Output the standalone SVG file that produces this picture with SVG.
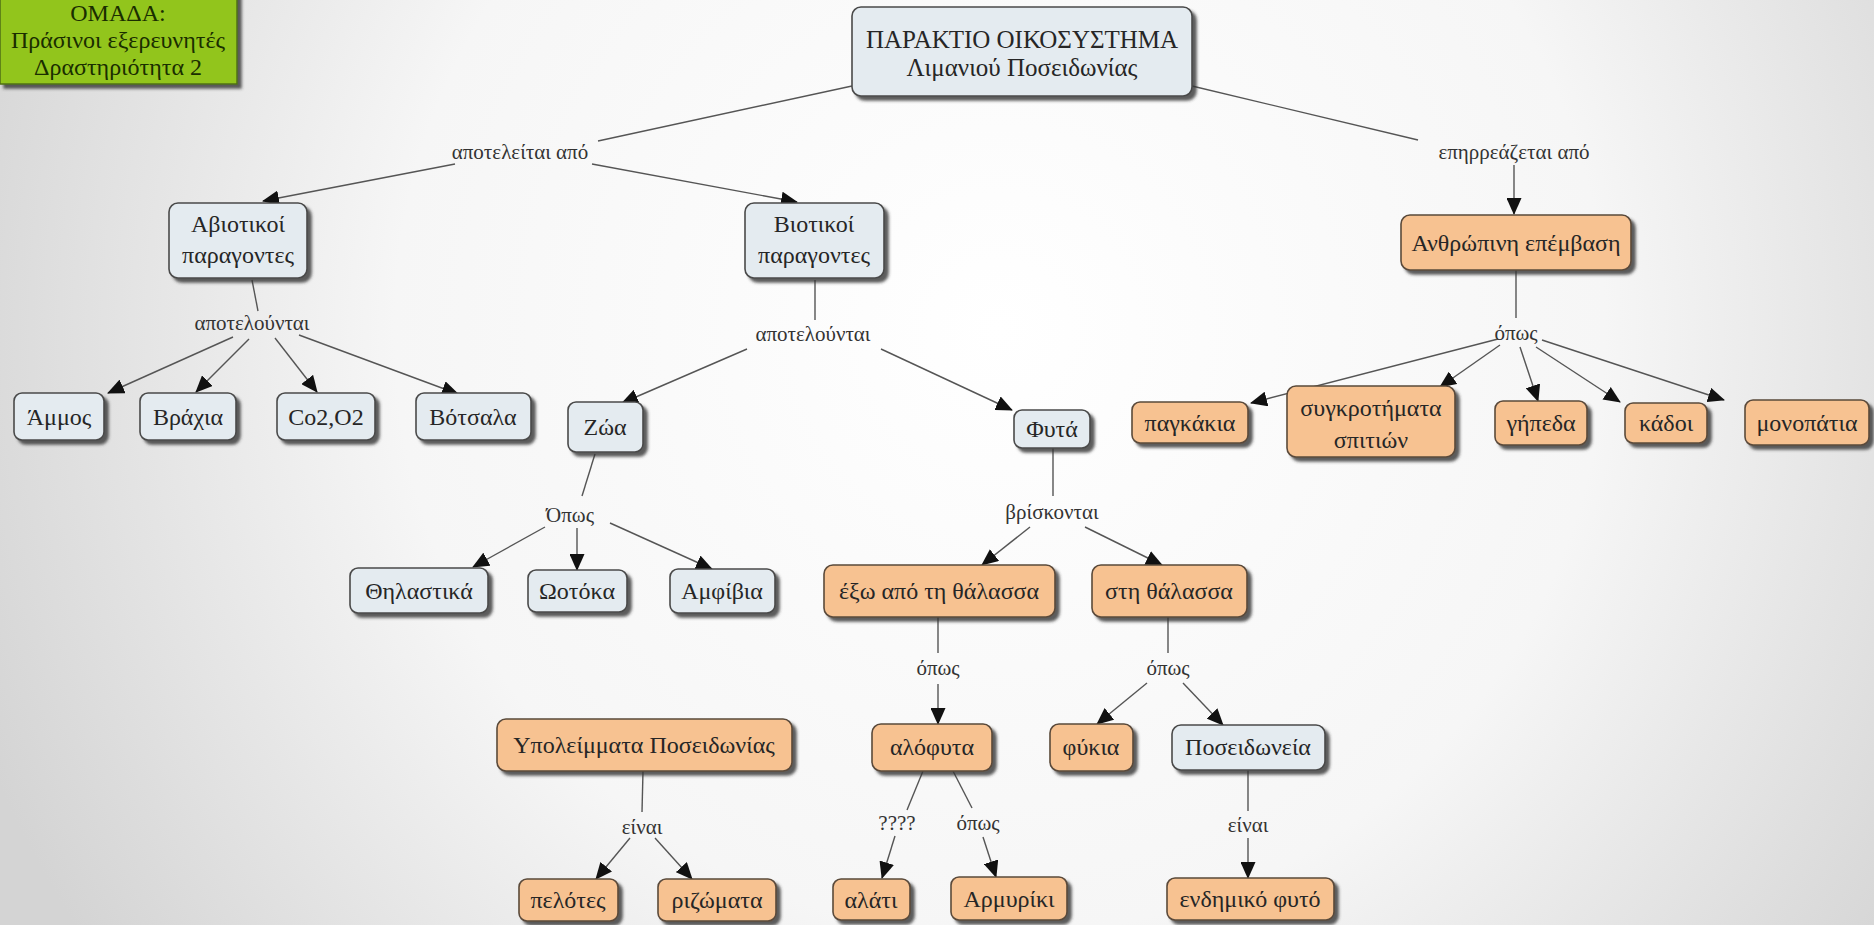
<svg xmlns="http://www.w3.org/2000/svg" width="1874" height="925" viewBox="0 0 1874 925">
<defs>
<radialGradient id="bg" cx="1000" cy="330" r="1100" gradientUnits="userSpaceOnUse">
<stop offset="0" stop-color="#ffffff"/>
<stop offset="0.55" stop-color="#f6f6f6"/>
<stop offset="1" stop-color="#d4d4d4"/>
</radialGradient>
<filter id="sh" x="-10%" y="-10%" width="130%" height="140%">
<feGaussianBlur in="SourceAlpha" stdDeviation="1.5"/>
<feOffset dx="4" dy="4" result="o"/>
<feFlood flood-color="#333333" flood-opacity="0.8"/>
<feComposite in2="o" operator="in"/>
<feMerge><feMergeNode/><feMergeNode in="SourceGraphic"/></feMerge>
</filter>
<marker id="ah" markerWidth="17" markerHeight="15" refX="16" refY="7.5" orient="auto" markerUnits="userSpaceOnUse">
<path d="M0,0 L17,7.5 L0,15 Z" fill="#111"/>
</marker>
</defs>
<style>
.b{fill:#e4ebf0;stroke:#4a4a4a;stroke-width:1.6}
.o{fill:#f7c291;stroke:#5a4a3a;stroke-width:1.6}
text{font-family:'Liberation Serif','Times New Roman','DejaVu Serif',serif}
.t{font-size:24px;fill:#262626;text-anchor:middle}
.tt{font-size:25px;fill:#262626;text-anchor:middle}
.l{font-size:21px;fill:#333;text-anchor:middle}
.c line{stroke:#555;stroke-width:1.4}
.a{marker-end:url(#ah)}
.g{font-size:24px;fill:#1a2e00;text-anchor:middle}
</style>
<rect width="1874" height="925" fill="url(#bg)"/>

<g id="team">
<rect x="0" y="-12" width="237" height="96" fill="#92c51b" stroke="#4f6f10" stroke-width="1.5" filter="url(#sh)"/>
<text class="g" x="118" y="21">ΟΜΑΔΑ:</text>
<text class="g" x="118" y="48">Πράσινοι εξερευνητές</text>
<text class="g" x="118" y="75">Δραστηριότητα 2</text>
</g>

<g class="c" id="connectors">
<line x1="852" y1="86" x2="598" y2="141"/>
<line class="a" x1="455" y1="164" x2="263" y2="201"/>
<line class="a" x1="592" y1="164" x2="797" y2="202"/>
<line x1="1192" y1="86" x2="1418" y2="140"/>
<line class="a" x1="1514" y1="165" x2="1514" y2="214"/>
<line x1="252" y1="280" x2="258" y2="311"/>
<line class="a" x1="233" y1="337" x2="108" y2="393"/>
<line class="a" x1="249" y1="339" x2="196" y2="392"/>
<line class="a" x1="275" y1="338" x2="317" y2="392"/>
<line class="a" x1="299" y1="335" x2="458" y2="394"/>
<line x1="815" y1="280" x2="815" y2="320"/>
<line class="a" x1="747" y1="349" x2="622" y2="403"/>
<line class="a" x1="881" y1="349" x2="1012" y2="410"/>
<line x1="595" y1="454" x2="582" y2="496"/>
<line class="a" x1="545" y1="527" x2="473" y2="567"/>
<line class="a" x1="577" y1="528" x2="577" y2="570"/>
<line class="a" x1="610" y1="523" x2="712" y2="569"/>
<line x1="1053" y1="448" x2="1053" y2="496"/>
<line class="a" x1="1030" y1="527" x2="982" y2="565"/>
<line class="a" x1="1085" y1="527" x2="1162" y2="565"/>
<line x1="938" y1="617" x2="938" y2="653"/>
<line class="a" x1="938" y1="684" x2="938" y2="724"/>
<line x1="1168" y1="617" x2="1168" y2="653"/>
<line class="a" x1="1147" y1="683" x2="1097" y2="724"/>
<line class="a" x1="1183" y1="683" x2="1223" y2="725"/>
<line x1="923" y1="771" x2="907" y2="810"/>
<line class="a" x1="895" y1="836" x2="882" y2="878"/>
<line x1="953" y1="771" x2="972" y2="808"/>
<line class="a" x1="983" y1="837" x2="996" y2="877"/>
<line x1="1248" y1="770" x2="1248" y2="811"/>
<line class="a" x1="1248" y1="838" x2="1248" y2="878"/>
<line x1="643" y1="771" x2="642" y2="812"/>
<line class="a" x1="630" y1="838" x2="596" y2="879"/>
<line class="a" x1="655" y1="838" x2="692" y2="879"/>
<line x1="1516" y1="270" x2="1516" y2="318"/>
<line class="a" x1="1498" y1="339" x2="1251" y2="403"/>
<line class="a" x1="1500" y1="345" x2="1440" y2="387"/>
<line class="a" x1="1520" y1="347" x2="1538" y2="401"/>
<line class="a" x1="1536" y1="347" x2="1620" y2="402"/>
<line class="a" x1="1542" y1="340" x2="1724" y2="400"/>
</g>

<g id="labels">
<text class="l" x="520" y="159">αποτελείται από</text>
<text class="l" x="1514" y="159">επηρρεάζεται από</text>
<text class="l" x="252" y="330">αποτελούνται</text>
<text class="l" x="813" y="341">αποτελούνται</text>
<text class="l" x="570" y="522">Όπως</text>
<text class="l" x="1052" y="519">βρίσκονται</text>
<text class="l" x="938" y="675">όπως</text>
<text class="l" x="1168" y="675">όπως</text>
<text class="l" x="897" y="830">????</text>
<text class="l" x="978" y="830">όπως</text>
<text class="l" x="1248" y="832">είναι</text>
<text class="l" x="642" y="834">είναι</text>
<text class="l" x="1516" y="340">όπως</text>
</g>

<g id="n-top"><rect class="b" x="852" y="7" width="340" height="89" rx="9" filter="url(#sh)"/><text class="tt" x="1022" y="48">ΠΑΡΑΚΤΙΟ ΟΙΚΟΣΥΣΤΗΜΑ</text><text class="tt" x="1022" y="76">Λιμανιού Ποσειδωνίας</text></g>
<g id="n-abiotic"><rect class="b" x="169" y="203" width="138" height="75" rx="9" filter="url(#sh)"/><text class="t" x="238" y="232">Αβιοτικοί</text><text class="t" x="238" y="263">παραγοντες</text></g>
<g id="n-biotic"><rect class="b" x="745" y="203" width="139" height="75" rx="9" filter="url(#sh)"/><text class="t" x="814" y="232">Βιοτικοί</text><text class="t" x="814" y="263">παραγοντες</text></g>
<g id="n-human"><rect class="o" x="1401" y="215" width="230" height="55" rx="9" filter="url(#sh)"/><text class="t" x="1516" y="251">Ανθρώπινη επέμβαση</text></g>

<g id="n-ammos"><rect class="b" x="14" y="393" width="90" height="47" rx="8" filter="url(#sh)"/><text class="t" x="59" y="425">Άμμος</text></g>
<g id="n-vrachia"><rect class="b" x="140" y="393" width="96" height="47" rx="8" filter="url(#sh)"/><text class="t" x="188" y="425">Βράχια</text></g>
<g id="n-co2"><rect class="b" x="277" y="393" width="98" height="47" rx="8" filter="url(#sh)"/><text class="t" x="326" y="425">Co2,O2</text></g>
<g id="n-votsala"><rect class="b" x="416" y="393" width="115" height="47" rx="8" filter="url(#sh)"/><text class="t" x="473" y="425">Βότσαλα</text></g>

<g id="n-zoa"><rect class="b" x="568" y="402" width="75" height="50" rx="8" filter="url(#sh)"/><text class="t" x="605" y="435">Ζώα</text></g>
<g id="n-fyta"><rect class="b" x="1014" y="410" width="76" height="38" rx="8" filter="url(#sh)"/><text class="t" x="1052" y="437">Φυτά</text></g>

<g id="n-thil"><rect class="b" x="350" y="568" width="138" height="45" rx="8" filter="url(#sh)"/><text class="t" x="419" y="599">Θηλαστικά</text></g>
<g id="n-ootoka"><rect class="b" x="528" y="570" width="99" height="42" rx="8" filter="url(#sh)"/><text class="t" x="577" y="599">Ωοτόκα</text></g>
<g id="n-amfivia"><rect class="b" x="670" y="569" width="105" height="44" rx="8" filter="url(#sh)"/><text class="t" x="722" y="599">Αμφίβια</text></g>

<g id="n-exo"><rect class="o" x="824" y="565" width="231" height="52" rx="9" filter="url(#sh)"/><text class="t" x="939" y="599">έξω από τη θάλασσα</text></g>
<g id="n-sti"><rect class="o" x="1092" y="565" width="155" height="52" rx="9" filter="url(#sh)"/><text class="t" x="1169" y="599">στη θάλασσα</text></g>

<g id="n-ypol"><rect class="o" x="497" y="719" width="295" height="52" rx="9" filter="url(#sh)"/><text class="t" x="644" y="753">Υπολείμματα Ποσειδωνίας</text></g>
<g id="n-alofyta"><rect class="o" x="872" y="724" width="120" height="47" rx="9" filter="url(#sh)"/><text class="t" x="932" y="755">αλόφυτα</text></g>
<g id="n-fykia"><rect class="o" x="1050" y="724" width="83" height="47" rx="9" filter="url(#sh)"/><text class="t" x="1091" y="755">φύκια</text></g>
<g id="n-poseid"><rect class="b" x="1172" y="725" width="153" height="45" rx="9" filter="url(#sh)"/><text class="t" x="1248" y="755">Ποσειδωνεία</text></g>

<g id="n-pelotes"><rect class="o" x="519" y="879" width="99" height="42" rx="8" filter="url(#sh)"/><text class="t" x="568" y="908">πελότες</text></g>
<g id="n-rizomata"><rect class="o" x="658" y="879" width="118" height="42" rx="8" filter="url(#sh)"/><text class="t" x="717" y="908">ριζώματα</text></g>
<g id="n-alati"><rect class="o" x="833" y="879" width="77" height="41" rx="8" filter="url(#sh)"/><text class="t" x="871" y="908">αλάτι</text></g>
<g id="n-armyriki"><rect class="o" x="951" y="877" width="116" height="43" rx="8" filter="url(#sh)"/><text class="t" x="1009" y="907">Αρμυρίκι</text></g>
<g id="n-endimiko"><rect class="o" x="1167" y="878" width="167" height="42" rx="8" filter="url(#sh)"/><text class="t" x="1250" y="907">ενδημικό φυτό</text></g>

<g id="n-pagkakia"><rect class="o" x="1132" y="402" width="116" height="41" rx="8" filter="url(#sh)"/><text class="t" x="1190" y="431">παγκάκια</text></g>
<g id="n-sygkr"><rect class="o" x="1287" y="386" width="168" height="71" rx="9" filter="url(#sh)"/><text class="t" x="1371" y="416">συγκροτήματα</text><text class="t" x="1371" y="448">σπιτιών</text></g>
<g id="n-gipeda"><rect class="o" x="1495" y="401" width="92" height="44" rx="8" filter="url(#sh)"/><text class="t" x="1541" y="431">γήπεδα</text></g>
<g id="n-kadoi"><rect class="o" x="1625" y="403" width="82" height="40" rx="8" filter="url(#sh)"/><text class="t" x="1666" y="431">κάδοι</text></g>
<g id="n-monopatia"><rect class="o" x="1745" y="400" width="124" height="45" rx="8" filter="url(#sh)"/><text class="t" x="1807" y="431">μονοπάτια</text></g>
</svg>
